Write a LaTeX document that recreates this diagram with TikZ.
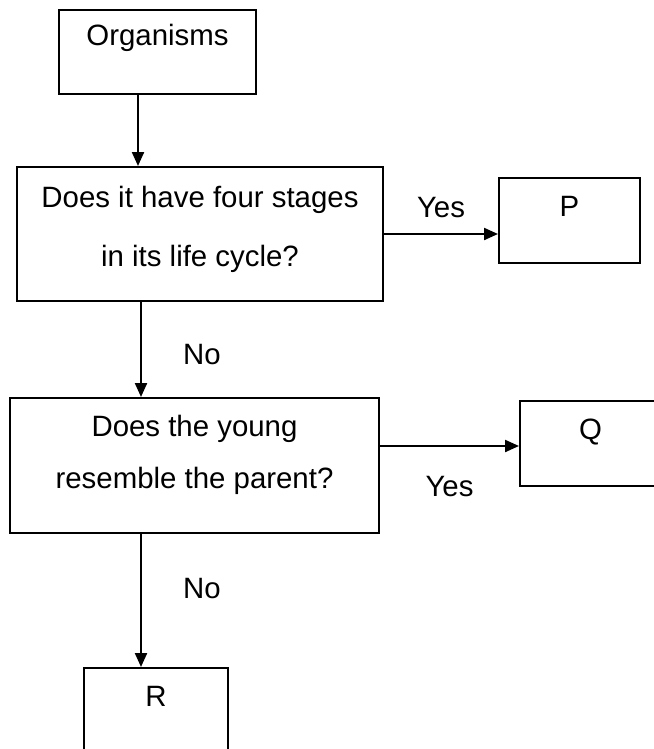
\documentclass[tikz,border=0pt]{standalone}
\usepackage{fontspec}
\setmainfont{Liberation Sans}
\usetikzlibrary{arrows.meta}
\tikzset{
  question/.style={rectangle, draw, line width=1pt, align=center, inner sep=0pt,
                   font=\fontsize{14.7}{#1}\selectfont},
  answer/.style={rectangle, draw, line width=1pt, inner sep=0pt,
                 font=\fontsize{14.7}{18}\selectfont,
                 minimum width=70.5pt, text height=19pt, text depth=23.5pt},
  arr/.style={-{Triangle[length=7pt,width=6pt]}, line width=1.1pt},
  lbl/.style={font=\fontsize{14.7}{18}\selectfont, inner sep=0pt},
}

\begin{document}
\begin{tikzpicture}[x=0.5pt, y=-0.5pt]
    \useasboundingbox (0,0) rectangle (653,749);
    \node[answer, minimum width=98.5pt, text height=18pt, text depth=24pt, anchor=north west] (org)
      at (58,9) {Organisms};
    \node[question=29.5pt, minimum width=183pt, text height=49.5pt, text depth=17.5pt, anchor=north west] (q1)
      at (16,166) {Does it have four stages\\in its life cycle?};
    \node[answer, anchor=north west] (p) at (498,177) {P};
    \node[question=26pt, minimum width=184.5pt, text height=45pt, text depth=22.5pt, anchor=north west] (q2)
      at (9,397) {Does the young\\resemble the parent?};
    \node[answer, anchor=north west] (q) at (519,400) {Q};
    \node[answer, minimum width=72pt, anchor=north west] (r) at (83,667) {R};
    % connectors
    \coordinate (a1) at ([xshift=-9.75pt]org.south);
    \coordinate (a2) at ([xshift=-29.5pt]q1.south);
    \coordinate (a3) at ([yshift=9.75pt]q2.east);
    \coordinate (a4) at ([xshift=-26.75pt]q2.south);
    \draw[arr] (a1) -- (a1 |- q1.north);
    \draw[arr] (q1.east) -- (q1.east -| p.west) node[lbl, midway, above=7.75pt] {Yes};
    \draw[arr] (a2) -- (a2 |- q2.north) node[lbl, pos=0.55, right=20.5pt] {No};
    \draw[arr] (a3) -- (a3 -| q.west) node[lbl, midway, below=14.75pt] {Yes};
    \draw[arr] (a4) -- (a4 |- r.north) node[lbl, pos=0.41, right=20.5pt] {No};
  \end{tikzpicture}
\end{document}
